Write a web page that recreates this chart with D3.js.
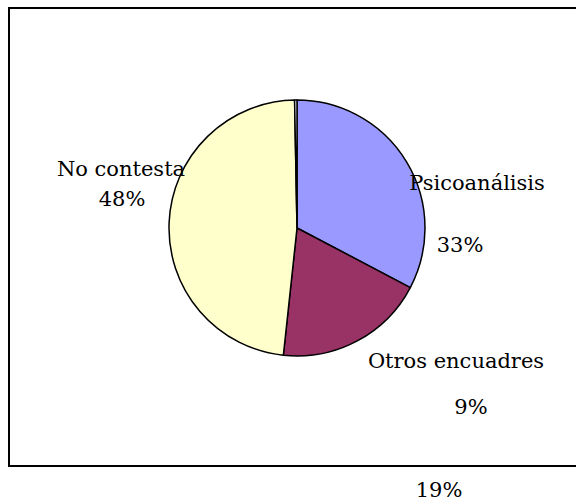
<!DOCTYPE html>
<html>
<head>
<meta charset="utf-8">
<script src="https://cdn.jsdelivr.net/npm/d3@7"></script>
<style>
  html, body { margin: 0; padding: 0; background: #ffffff; }
  svg { display: block; }
</style>
</head>
<body>
<svg id="chart" width="576" height="501"></svg>
<script>
// ---- data ----
const categories = ["Psicoanálisis", "Otros encuadres", "No contesta", ""];
const values = [32.7, 19.0, 48.0, 0.3];
const colors = ["#9999FF", "#993366", "#FFFFCC", "#FFFFFF"];
// labels as printed on the chart (text only)
const labelTexts = ["Psicoanálisis", "33%", "Otros encuadres", "9%", "No contesta", "48%", "19%"];

// ---- layout ----
const svg = d3.select("#chart");
const cx = 297, cy = 228, r = 128;

svg.append("rect")
  .attr("x", 9).attr("y", 8)
  .attr("width", 600).attr("height", 458)
  .attr("fill", "#ffffff")
  .attr("stroke", "#000000")
  .attr("stroke-width", 2);

const pie = d3.pie().sort(null).value(d => d.v).startAngle(0).endAngle(2 * Math.PI);
const arc = d3.arc().innerRadius(0).outerRadius(r);
const data = categories.map((c, i) => ({ c, v: values[i], col: colors[i] }));

svg.append("g")
  .attr("transform", `translate(${cx},${cy})`)
  .selectAll("path")
  .data(pie(data))
  .join("path")
  .attr("d", arc)
  .attr("fill", d => d.data.col)
  .attr("stroke", "#000000")
  .attr("stroke-width", 1.5)
  .attr("stroke-linejoin", "round");

// label placement (x center, baseline y)
const labelPos = [
  [477, 190],
  [460, 252],
  [456, 368],
  [471, 414],
  [121, 176],
  [122, 206],
  [439, 497]
];

svg.append("g")
  .selectAll("text")
  .data(labelTexts)
  .join("text")
  .attr("x", (d, i) => labelPos[i][0])
  .attr("y", (d, i) => labelPos[i][1])
  .attr("text-anchor", "middle")
  .attr("font-family", "DejaVu Serif")
  .attr("font-size", 21)
  .attr("fill", "#000000")
  .text(d => d);
</script>
</body>
</html>
